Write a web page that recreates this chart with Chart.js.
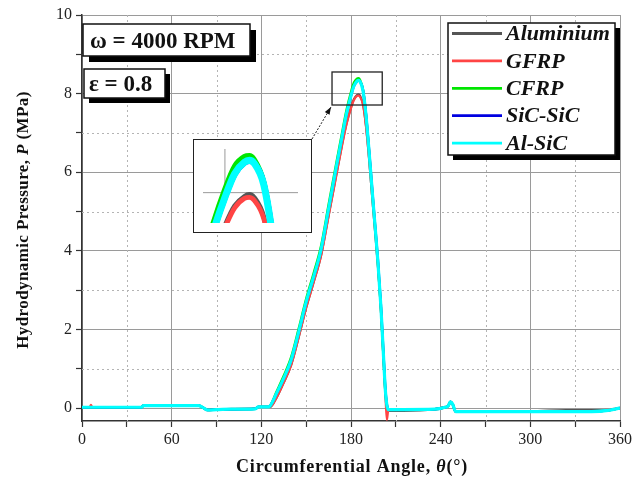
<!DOCTYPE html>
<html>
<head>
<meta charset="utf-8">
<script src="https://cdn.jsdelivr.net/npm/chart.js@4.4.0/dist/chart.umd.min.js"></script>
<style>
  html, body { margin: 0; padding: 0; background: #fff; }
  #wrap { position: relative; width: 635px; height: 480px; }
  #inset { position: absolute; left: 193px; top: 139px; width: 119px; height: 94px;
           background: #fff; border: 1px solid #222; box-sizing: border-box; }
  #inset canvas { display: block; }
</style>
</head>
<body>
<div id="wrap">
  <canvas id="main" width="635" height="480"></canvas>
  <div id="inset"><canvas id="zoom" width="117" height="92"></canvas></div>
</div>
<script>
// circumferential angle (deg)
const theta = [0, 5, 6, 7, 40, 41, 78, 81, 84, 90, 100, 116, 118, 125, 126,
  130, 135, 140, 145, 150, 155, 160, 165, 170, 174, 177, 180, 182, 184, 185,
  186, 188, 190, 192, 194, 196, 198, 200, 202, 203, 204, 205, 215, 236, 243,
  245, 246.5, 248, 250, 300, 324, 341, 352, 360];

// hydrodynamic pressure (MPa) for each bearing material
const aluminium = [0.02, 0.02, 0.02, 0.02, 0.02, 0.06, 0.06, 0.01, -0.05, -0.04, -0.03, -0.02, 0.03, 0.03, 0.03,
  0.25, 0.65, 1.10, 1.80, 2.55, 3.20, 3.89, 4.90, 5.90, 6.70, 7.24, 7.65, 7.86, 7.96, 7.98,
  7.95, 7.74, 7.19, 6.39, 5.46, 4.56, 3.63, 2.51, 1.06, 0.37, -0.05, -0.07, -0.07, -0.03, 0.02,
  0.05, 0.14, 0.10, -0.08, -0.08, -0.05, -0.05, -0.06, 0.00];
const gfrp = [0.02, 0.02, 0.08, 0.02, 0.02, 0.06, 0.06, 0.01, -0.05, -0.04, -0.02, -0.02, 0.03, 0.03, 0.03,
  0.25, 0.65, 1.10, 1.80, 2.55, 3.20, 3.88, 4.88, 5.88, 6.68, 7.22, 7.63, 7.84, 7.94, 7.95,
  7.92, 7.72, 7.18, 6.38, 5.45, 4.55, 3.62, 2.50, 1.05, 0.35, -0.30, -0.05, -0.04, -0.03, 0.03,
  0.05, 0.15, 0.10, -0.09, -0.09, -0.09, -0.09, -0.04, 0.00];
const cfrp = [0.02, 0.02, 0.02, 0.02, 0.02, 0.06, 0.06, 0.01, -0.05, -0.04, -0.03, -0.02, 0.03, 0.03, 0.06,
  0.40, 0.82, 1.30, 2.02, 2.78, 3.43, 4.13, 5.17, 6.20, 7.00, 7.58, 8.04, 8.28, 8.38, 8.39,
  8.35, 8.10, 7.47, 6.57, 5.60, 4.66, 3.70, 2.56, 1.12, 0.44, 0.07, -0.04, -0.04, -0.03, 0.02,
  0.05, 0.16, 0.10, -0.09, -0.09, -0.09, -0.09, -0.06, 0.00];
const sicSic = [0.02, 0.02, 0.02, 0.02, 0.02, 0.06, 0.06, 0.01, -0.05, -0.04, -0.03, -0.02, 0.03, 0.03, 0.06,
  0.35, 0.75, 1.22, 1.93, 2.69, 3.33, 4.03, 5.06, 6.09, 6.89, 7.48, 7.94, 8.19, 8.31, 8.33,
  8.31, 8.10, 7.50, 6.62, 5.66, 4.72, 3.78, 2.64, 1.20, 0.50, 0.10, -0.04, -0.04, -0.03, 0.02,
  0.05, 0.16, 0.10, -0.09, -0.09, -0.09, -0.09, -0.06, 0.00];
const alSic = [0.02, 0.02, 0.02, 0.02, 0.02, 0.06, 0.06, 0.01, -0.05, -0.04, -0.03, -0.02, 0.03, 0.03, 0.06,
  0.36, 0.76, 1.23, 1.94, 2.70, 3.34, 4.04, 5.07, 6.10, 6.90, 7.49, 7.95, 8.20, 8.32, 8.34,
  8.31, 8.08, 7.46, 6.57, 5.61, 4.67, 3.72, 2.58, 1.14, 0.45, 0.08, -0.04, -0.04, -0.03, 0.02,
  0.05, 0.16, 0.10, -0.09, -0.09, -0.09, -0.09, -0.06, 0.00];

const seriesNames = ["Aluminium", "GFRP", "CFRP", "SiC-SiC", "Al-SiC"];
const seriesValues = [aluminium, gfrp, cfrp, sicSic, alSic];
const seriesColors = ["#555555", "#ff4444", "#00e600", "#0000e0", "#00ffff"];
const seriesWidths = [2.2, 2.2, 2.4, 2.4, 3.2];

// enlarged view around the pressure peak
const zoomX = [167.3, 200.9];
const zoomY = [7.71, 8.55];
const insetX = [175.5, 195];
const insetY = [7.68, 8.46];

const xTicks = [0, 60, 120, 180, 240, 300, 360];
const yTicks = [0, 2, 4, 6, 8, 10];

const SERIF = '"Liberation Serif", "Times New Roman", serif';
Chart.defaults.font.family = SERIF;

const makeDatasets = (widthScale) =>
  seriesNames.map((name, i) => ({
    label: name,
    data: theta.map((t, j) => ({ x: t, y: seriesValues[i][j] })),
    borderColor: seriesColors[i],
    backgroundColor: seriesColors[i],
    borderWidth: seriesWidths[i] * widthScale,
    pointRadius: 0,
    cubicInterpolationMode: "monotone",
    // last material on top
    order: seriesNames.length - i,
  }));

// draw text made of plain / italic pieces, centred on (x, y)
function drawRich(ctx, parts, x, y, size, spacing) {
  const fontFor = (p) => (p.italic ? "italic " : "") + "bold " + size + "px " + SERIF;
  ctx.letterSpacing = spacing + "px";
  let total = 0;
  parts.forEach((p) => {
    ctx.font = fontFor(p);
    total += ctx.measureText(p.t).width;
  });
  let cx = x - total / 2;
  ctx.textAlign = "left";
  ctx.textBaseline = "middle";
  parts.forEach((p) => {
    ctx.font = fontFor(p);
    ctx.fillText(p.t, cx, y);
    cx += ctx.measureText(p.t).width;
  });
  ctx.letterSpacing = "0px";
}

function shadowBox(ctx, x, y, w, h, off) {
  ctx.fillStyle = "#000";
  ctx.fillRect(x + off, y + off, w, h);
  ctx.fillStyle = "#fff";
  ctx.fillRect(x, y, w, h);
  ctx.strokeStyle = "#111";
  ctx.lineWidth = 1.5;
  ctx.strokeRect(x, y, w, h);
}

// dotted minor grid (odd pressures, odd multiples of 30 deg)
const minorGridPlugin = {
  id: "minorGrid",
  beforeDatasetsDraw(chart) {
    const { ctx, chartArea: a, scales } = chart;
    ctx.save();
    ctx.strokeStyle = "#b4b4b4";
    ctx.lineWidth = 1;
    ctx.setLineDash([2, 3]);
    ctx.beginPath();
    for (let v = 30; v < 360; v += 60) {
      const px = Math.round(scales.x.getPixelForValue(v)) + 0.5;
      ctx.moveTo(px, a.top);
      ctx.lineTo(px, a.bottom);
    }
    for (let v = 1; v < 10; v += 2) {
      const py = Math.round(scales.y.getPixelForValue(v)) + 0.5;
      ctx.moveTo(a.left, py);
      ctx.lineTo(a.right, py);
    }
    ctx.stroke();
    ctx.restore();
  },
};

const decorPlugin = {
  id: "decor",
  afterDraw(chart) {
    const { ctx, scales } = chart;
    const xs = scales.x, ys = scales.y;
    ctx.save();

    // axis titles
    ctx.fillStyle = "#111";
    drawRich(ctx, [
      { t: "Circumferential Angle, " },
      { t: "\u03b8", italic: true },
      { t: "(\u00b0)" },
    ], 352, 467, 18, 0.8);
    ctx.save();
    ctx.translate(24, 220);
    ctx.rotate(-Math.PI / 2);
    drawRich(ctx, [
      { t: "Hydrodynamic Pressure, " },
      { t: "P", italic: true },
      { t: " (MPa)" },
    ], 0, 0, 17, 0.4);
    ctx.restore();

    // operating condition boxes
    shadowBox(ctx, 83, 24, 167, 32, 6);
    shadowBox(ctx, 84, 69, 81, 29, 5);
    ctx.fillStyle = "#111";
    ctx.font = "bold 23px " + SERIF;
    ctx.textAlign = "left";
    ctx.textBaseline = "alphabetic";
    ctx.fillText("\u03c9 = 4000 RPM", 90, 48);
    ctx.fillText("\u03b5 = 0.8", 89, 91);

    // legend
    shadowBox(ctx, 448, 23, 167, 132, 5);
    seriesNames.forEach((name, i) => {
      const ly = 33.5 + i * 27.4;
      ctx.strokeStyle = seriesColors[i];
      ctx.lineWidth = 2.8;
      ctx.beginPath();
      ctx.moveTo(452, ly);
      ctx.lineTo(502, ly);
      ctx.stroke();
      ctx.fillStyle = "#111";
      ctx.font = "italic bold 22px " + SERIF;
      ctx.textBaseline = "middle";
      ctx.fillText(name, 506, ly + 1);
    });

    // rectangle marking the enlarged region
    const rx0 = xs.getPixelForValue(zoomX[0]);
    const rx1 = xs.getPixelForValue(zoomX[1]);
    const ry0 = ys.getPixelForValue(zoomY[1]);
    const ry1 = ys.getPixelForValue(zoomY[0]);
    ctx.strokeStyle = "#222";
    ctx.lineWidth = 1.3;
    ctx.strokeRect(rx0, ry0, rx1 - rx0, ry1 - ry0);

    // dotted connector with arrow head
    const ax = rx0 - 1, ay = ry1 + 2;
    const bx = 312, by = 139;
    ctx.setLineDash([2, 1.5]);
    ctx.lineWidth = 1;
    ctx.beginPath();
    ctx.moveTo(bx, by);
    ctx.lineTo(ax, ay);
    ctx.stroke();
    ctx.setLineDash([]);
    const ang = Math.atan2(ay - by, ax - bx);
    ctx.fillStyle = "#111";
    ctx.beginPath();
    ctx.moveTo(ax, ay);
    ctx.lineTo(ax - 8 * Math.cos(ang - 0.35), ay - 8 * Math.sin(ang - 0.35));
    ctx.lineTo(ax - 8 * Math.cos(ang + 0.35), ay - 8 * Math.sin(ang + 0.35));
    ctx.closePath();
    ctx.fill();

    ctx.restore();
  },
};

// minor grid lines are hidden here and drawn dotted by minorGridPlugin
const isMajorX = (c) => c.tick && c.tick.value % 60 === 0;
const isMajorY = (c) => c.tick && c.tick.value % 2 === 0;

new Chart(document.getElementById("main"), {
  type: "line",
  data: { datasets: makeDatasets(1) },
  options: {
    responsive: false,
    animation: false,
    layout: { padding: { top: 15, right: 13, left: 0, bottom: 0 } },
    scales: {
      x: {
        type: "linear",
        min: 0,
        max: 360,
        afterFit: (s) => { s.height = 59; },
        ticks: {
          stepSize: 30,
          maxTicksLimit: 20,
          autoSkip: false,
          maxRotation: 0,
          padding: 3,
          color: "#222",
          font: { size: 16 },
          callback: (v) => (xTicks.includes(v) ? v : ""),
        },
        grid: {
          color: (c) => (isMajorX(c) ? "#9a9a9a" : "rgba(0,0,0,0)"),
          lineWidth: 1,
          tickLength: 6,
          tickColor: "#333",
          tickWidth: 1.2,
        },
        border: { color: "#333", width: 1.5 },
      },
      y: {
        min: -0.33,
        max: 10,
        afterFit: (s) => { s.width = 82; },
        ticks: {
          stepSize: 1,
          maxTicksLimit: 20,
          includeBounds: false,
          autoSkip: false,
          padding: 4,
          color: "#222",
          font: { size: 16 },
          callback: (v) => (yTicks.includes(v) ? v : ""),
        },
        grid: {
          color: (c) => (isMajorY(c) ? "#9a9a9a" : "rgba(0,0,0,0)"),
          lineWidth: 1,
          tickLength: 6,
          tickColor: "#333",
          tickWidth: 1.2,
        },
        border: { color: "#333", width: 1.5 },
      },
    },
    plugins: { legend: { display: false }, tooltip: { enabled: false } },
  },
  plugins: [minorGridPlugin, decorPlugin],
});

// guide lines inside the enlarged view (theta = 180, P = 8)
const insetGridPlugin = {
  id: "insetGrid",
  beforeDatasetsDraw(chart) {
    const { ctx, chartArea, scales } = chart;
    const gx = scales.x.getPixelForValue(180);
    const gy = scales.y.getPixelForValue(8);
    ctx.save();
    ctx.strokeStyle = "#999";
    ctx.lineWidth = 1;
    ctx.beginPath();
    ctx.moveTo(gx, chartArea.top);
    ctx.lineTo(gx, gy - 2);
    ctx.moveTo(chartArea.left, gy);
    ctx.lineTo(chartArea.right, gy);
    ctx.stroke();
    ctx.restore();
  },
};

new Chart(document.getElementById("zoom"), {
  type: "line",
  data: { datasets: makeDatasets(2.2) },
  options: {
    responsive: false,
    animation: false,
    layout: { padding: { left: 9, top: 9, right: 13, bottom: 9 } },
    scales: {
      x: { type: "linear", display: false, min: insetX[0], max: insetX[1] },
      y: { display: false, min: insetY[0], max: insetY[1] },
    },
    plugins: { legend: { display: false }, tooltip: { enabled: false } },
  },
  plugins: [insetGridPlugin],
});
</script>
</body>
</html>
